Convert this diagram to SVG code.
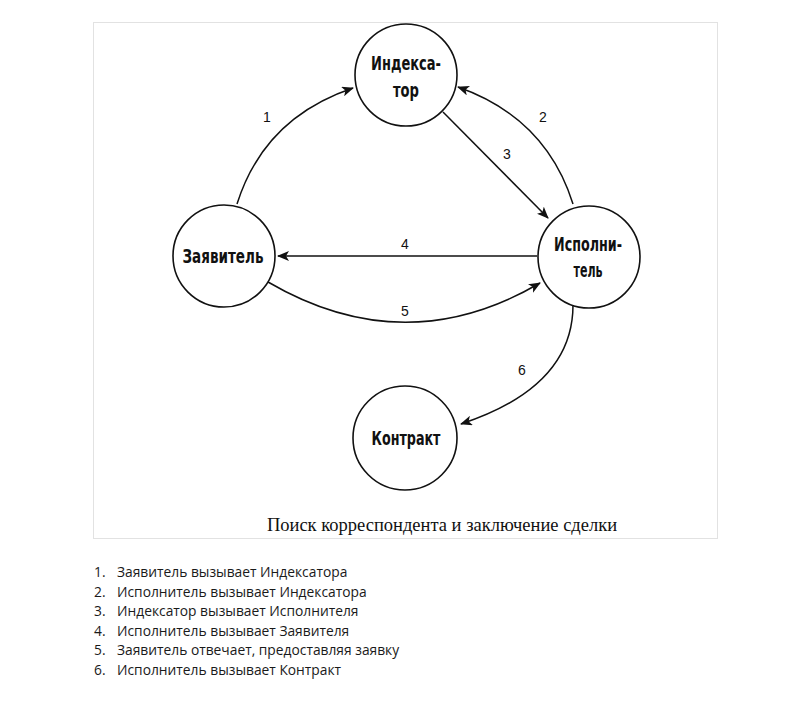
<svg xmlns="http://www.w3.org/2000/svg" width="805" height="710" viewBox="0 0 805 710">
<style>
.node circle{fill:#fff;stroke:#111;stroke-width:1.6}
.node text{font-family:"DejaVu Sans Condensed","DejaVu Sans",sans-serif;font-weight:bold;font-size:20px;fill:#111;text-anchor:middle}
.edge{fill:none;stroke:#111;stroke-width:1.5;marker-end:url(#arr)}
.num{font-family:"Liberation Sans",Arial,sans-serif;font-size:14px;fill:#111;text-anchor:middle}
.list{font-family:"Open Sans","Liberation Sans",sans-serif;font-size:13.8px;fill:#1a1a1a}
.cap{font-family:"Liberation Serif","Times New Roman",serif;font-size:18.5px;fill:#111;text-anchor:middle}
</style>
<defs>
<marker id="arr" viewBox="0 0 12 10" refX="11" refY="5" markerWidth="12" markerHeight="10" markerUnits="userSpaceOnUse" orient="auto">
<path d="M0,0 L12,5 L0,10 L3,5 Z" fill="#111"/>
</marker>
</defs>
<rect x="0" y="0" width="805" height="710" fill="#fff"/>
<rect x="93.5" y="22.5" width="624" height="516" fill="#fff" stroke="#e2e2e2" stroke-width="1"/>
<g id="connectors">
<path id="e1" class="edge" d="M237,204 Q264,118 353,88"/>
<path id="e2" class="edge" d="M573,204 Q546,118 458,87"/>
<path id="e3" class="edge" d="M443,112 L548,218"/>
<path id="e4" class="edge" d="M537,256 L278,256"/>
<path id="e5" class="edge" d="M268,282 Q405,362 540,283"/>
<path id="e6" class="edge" d="M573,305 Q573,387 461,424"/>
<text class="num" x="267" y="122">1</text>
<text class="num" x="543" y="122">2</text>
<text class="num" x="507" y="159">3</text>
<text class="num" x="405" y="249">4</text>
<text class="num" x="405" y="316">5</text>
<text class="num" x="522" y="375">6</text>
</g>
<g id="n-indexator" class="node">
<circle cx="406" cy="75" r="51"/>
<text x="406" y="70" textLength="70" lengthAdjust="spacingAndGlyphs">Индекса-</text>
<text x="406" y="97" textLength="26" lengthAdjust="spacingAndGlyphs">тор</text>
</g>
<g id="n-zayavitel" class="node">
<circle cx="224" cy="256" r="51"/>
<text x="223" y="263" textLength="81" lengthAdjust="spacingAndGlyphs">Заявитель</text>
</g>
<g id="n-ispolnitel" class="node">
<circle cx="589" cy="257" r="51"/>
<text x="588" y="251" textLength="68" lengthAdjust="spacingAndGlyphs">Исполни-</text>
<text x="588" y="277" textLength="29" lengthAdjust="spacingAndGlyphs">тель</text>
</g>
<g id="n-kontrakt" class="node">
<circle cx="405" cy="438" r="52"/>
<text x="406" y="445" textLength="69" lengthAdjust="spacingAndGlyphs">Контракт</text>
</g>
<text class="cap" x="442" y="531">Поиск корреспондента и заключение сделки</text>
<g id="legend" class="list">
<text x="94" y="577">1.</text><text x="117" y="577">Заявитель вызывает Индексатора</text>
<text x="94" y="596.5">2.</text><text x="117" y="596.5">Исполнитель вызывает Индексатора</text>
<text x="94" y="616">3.</text><text x="117" y="616">Индексатор вызывает Исполнителя</text>
<text x="94" y="635.5">4.</text><text x="117" y="635.5">Исполнитель вызывает Заявителя</text>
<text x="94" y="655">5.</text><text x="117" y="655">Заявитель отвечает, предоставляя заявку</text>
<text x="94" y="674.5">6.</text><text x="117" y="674.5">Исполнитель вызывает Контракт</text>
</g>
</svg>
